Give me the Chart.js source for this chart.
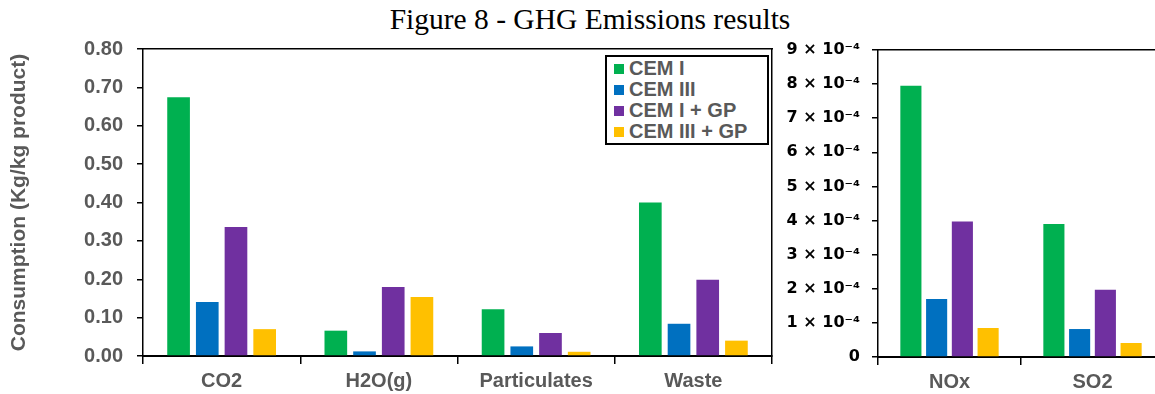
<!DOCTYPE html>
<html>
<head>
<meta charset="utf-8">
<script src="https://cdn.jsdelivr.net/npm/chart.js@4.4.0/dist/chart.umd.min.js"></script>
<style>
  body { margin: 0; width: 1155px; height: 394px; overflow: hidden; background: #fff; position: relative; }
  #title { position: absolute; top: 3px; left: 0; width: 1180px; text-align: center;
           font-family: "Liberation Serif", "Times New Roman", serif; font-size: 29.5px; color: #000; }
  #mainWrap { position: absolute; left: 0; top: 0; width: 800px; height: 394px; }
  #sideWrap { position: absolute; left: 770px; top: 0; width: 400px; height: 394px; }
  #legend { position: absolute; left: 605px; top: 55px; width: 164px; height: 90px; border: 2px solid #000;
            background: #fff; padding: 1px 0 0 7px; box-sizing: border-box;
            font-family: "Liberation Sans", Arial, sans-serif; font-weight: bold; font-size: 20px; color: #595959; }
  #legend div { height: 21px; line-height: 21px; white-space: nowrap; }
  #legend span { display: inline-block; width: 10px; height: 10px; margin-right: 5px; vertical-align: 1px; }
</style>
</head>
<body>
<div id="title">Figure 8 - GHG Emissions results</div>
<div id="mainWrap"><canvas id="mainChart"></canvas></div>
<div id="sideWrap"><canvas id="sideChart"></canvas></div>
<div id="legend"></div>
<script>
// series names and colours
const seriesNames = ['CEM I', 'CEM III', 'CEM I + GP', 'CEM III + GP'];
const seriesColors = ['#00B050', '#0070C0', '#7030A0', '#FFC000'];

// left panel (Kg/kg product)
const mainLabels = ['CO2', 'H2O(g)', 'Particulates', 'Waste'];
const mainCemI     = [0.674, 0.066, 0.122, 0.400];
const mainCemIII   = [0.141, 0.012, 0.025, 0.084];
const mainCemIGp   = [0.336, 0.180, 0.060, 0.199];
const mainCemIIIGp = [0.070, 0.154, 0.011, 0.040];

// right panel (small values, x 10^-4)
const sideLabels = ['NOx', 'SO2'];
const sideCemI     = [7.95e-4, 3.90e-4];
const sideCemIII   = [1.70e-4, 0.82e-4];
const sideCemIGp   = [3.97e-4, 1.97e-4];
const sideCemIIIGp = [0.85e-4, 0.41e-4];

const FONT = '"Liberation Sans", Arial, sans-serif';
const GREY = '#595959';

function makeDatasets(arrays, catPct, barPct) {
    return arrays.map((data, i) => ({
        label: seriesNames[i],
        data: data,
        backgroundColor: seriesColors[i],
        borderWidth: 0,
        categoryPercentage: catPct,
        barPercentage: barPct
    }));
}

function frameAxes() {
    // plain border lines on top and right of the plot area
    return {
        xTop: {
            type: 'category', position: 'top', display: true,
            grid: { display: false },
            border: { display: true, color: '#000', width: 1.5 },
            ticks: { display: false },
            afterFit(s) { s.height = 0; }
        },
        yRight: {
            type: 'linear', position: 'right', display: true,
            grid: { display: false },
            border: { display: true, color: '#000', width: 1.5 },
            ticks: { display: false },
            afterFit(s) { s.width = 0; }
        }
    };
}

// build the legend from the series arrays
const legendBox = document.getElementById('legend');
seriesNames.forEach((name, i) => {
    const row = document.createElement('div');
    row.innerHTML = `<span style="background:${seriesColors[i]}"></span>${name}`;
    legendBox.appendChild(row);
});

new Chart(document.getElementById('mainChart'), {
    type: 'bar',
    data: {
        labels: mainLabels,
        datasets: makeDatasets([mainCemI, mainCemIII, mainCemIGp, mainCemIIIGp], 0.73, 0.79)
    },
    options: {
        responsive: true,
        maintainAspectRatio: false,
        animation: false,
        layout: { padding: { top: 49, right: 28, left: 0, bottom: 0 } },
        plugins: { legend: { display: false }, tooltip: { enabled: false } },
        scales: {
            x: {
                position: 'bottom',
                grid: { display: true, drawOnChartArea: false, drawTicks: true, tickLength: 8, color: '#000', lineWidth: 1.5, offset: true },
                border: { color: '#000', width: 2 },
                ticks: { color: GREY, font: { family: FONT, size: 20, weight: 'bold' }, padding: 5 },
                afterFit(s) { s.height = 38; }
            },
            y: {
                min: 0, max: 0.8,
                grid: { drawOnChartArea: false, tickLength: 6, color: '#000', lineWidth: 1.5 },
                border: { color: '#000', width: 1.5 },
                ticks: {
                    stepSize: 0.1, color: GREY, padding: 14,
                    font: { family: FONT, size: 20, weight: 'bold' },
                    callback: v => v.toFixed(2)
                },
                title: {
                    display: true, text: 'Consumption (Kg/kg product)', color: GREY,
                    font: { family: FONT, size: 21, weight: 'bold' }, padding: { top: 7, bottom: 0 }
                },
                afterFit(s) { s.width = 143; }
            },
            ...frameAxes()
        }
    }
});

new Chart(document.getElementById('sideChart'), {
    type: 'bar',
    data: {
        labels: sideLabels,
        datasets: makeDatasets([sideCemI, sideCemIII, sideCemIGp, sideCemIIIGp], 0.72, 0.82)
    },
    options: {
        responsive: true,
        maintainAspectRatio: false,
        animation: false,
        layout: { padding: { top: 50, right: 6, left: 0, bottom: 0 } },
        plugins: { legend: { display: false }, tooltip: { enabled: false } },
        scales: {
            x: {
                position: 'bottom',
                grid: { display: true, drawOnChartArea: false, drawTicks: true, tickLength: 8, color: '#000', lineWidth: 1.5, offset: true },
                border: { color: '#000', width: 2 },
                ticks: { color: GREY, font: { family: FONT, size: 20, weight: 'bold' }, padding: 5 },
                afterFit(s) { s.height = 37; }
            },
            y: {
                min: 0, max: 9e-4,
                grid: { drawOnChartArea: false, tickLength: 6, color: '#000', lineWidth: 1.5 },
                border: { color: '#000', width: 1.5 },
                ticks: {
                    stepSize: 1e-4, color: '#000', padding: 12,
                    font: { family: '"DejaVu Sans", ' + FONT, size: 16, weight: 'bold' },
                    callback: v => {
                        const n = Math.round(v * 1e4);
                        return n === 0 ? '0' : n + ' \u00d7 10\u207b\u2074';
                    }
                },
                afterFit(s) { s.width = 108; }
            },
            ...frameAxes()
        }
    }
});
</script>
</body>
</html>
